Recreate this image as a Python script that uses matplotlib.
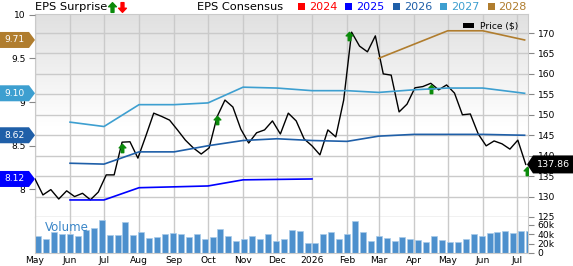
import numpy as np
import matplotlib
matplotlib.use("Agg")
import matplotlib.pyplot as plt
from matplotlib.colors import LinearSegmentedColormap
from matplotlib.patches import Polygon, Rectangle
from matplotlib.lines import Line2D
from matplotlib.path import Path
from matplotlib.transforms import IdentityTransform

W, H = 573, 266

# weekly closing price and volume (thousands)
week0 = np.datetime64('2025-05-01')
price = [134.3, 130.4, 131.7, 129.4, 131.4, 130.0, 130.8, 129.2, 131.1, 135.3,
         135.3, 143.3, 143.4, 139.4, 144.8, 150.4, 149.6, 148.7, 146.3, 143.8,
         141.9, 140.4, 141.9, 149.5, 153.6, 151.9, 146.5, 143.1, 145.6, 146.3,
         148.5, 145.3, 150.4, 148.5, 144.1, 142.4, 140.2, 146.3, 144.6, 153.6,
         170.2, 166.8, 165.4, 169.3, 160.0, 159.7, 150.7, 152.6, 156.6, 156.9,
         157.7, 156.1, 157.3, 155.3, 150.0, 150.2, 145.3, 142.4, 143.6, 142.9,
         141.6, 143.8, 137.86]
volume_k = [36, 31, 44, 41, 41, 36, 49, 53, 71, 39,
            39, 67, 39, 45, 33, 35, 41, 42, 41, 34,
            40, 30, 34, 51, 36, 25, 29, 36, 31, 40,
            25, 31, 49, 47, 22, 22, 41, 44, 30, 40,
            69, 45, 26, 36, 33, 26, 34, 29, 28, 23,
            36, 28, 23, 24, 30, 40, 36, 42, 44, 46,
            42, 46, 46]
price_dates = week0 + np.arange(len(price)) * np.timedelta64(7, 'D')

# consensus EPS by fiscal year
eps_dates = np.array(['2025-06-01', '2025-07-01', '2025-08-01', '2025-09-01',
                      '2025-10-01', '2025-11-01', '2025-12-01', '2026-01-01',
                      '2026-02-01', '2026-03-01', '2026-04-01', '2026-05-01',
                      '2026-06-01', '2026-07-08'], dtype='datetime64[D]')
eps_2025 = [7.88, 7.88, 8.02, 8.03, 8.04, 8.11, 8.115, 8.12]
eps_2026 = [8.30, 8.29, 8.43, 8.43, 8.50, 8.56, 8.58, 8.56,
            8.55, 8.61, 8.63, 8.63, 8.63, 8.62]
eps_2027 = [8.77, 8.72, 8.97, 8.97, 8.99, 9.17, 9.16, 9.13,
            9.13, 9.11, 9.14, 9.16, 9.16, 9.10]
eps_2028_dates = np.array(['2026-03-01', '2026-05-01', '2026-06-01', '2026-07-08'],
                          dtype='datetime64[D]')
eps_2028 = [9.50, 9.815, 9.815, 9.71]

surprise_dates = np.array(['2025-07-17', '2025-10-09', '2026-02-03',
                           '2026-04-16', '2026-07-10'], dtype='datetime64[D]')
surprise_price = [141.8, 148.7, 169.3, 156.2, 136.3]

month_ticks = np.array(['2025-05-01', '2025-06-01', '2025-07-01', '2025-08-01',
                        '2025-09-01', '2025-10-01', '2025-11-01', '2025-12-01',
                        '2026-01-01', '2026-02-01', '2026-03-01', '2026-04-01',
                        '2026-05-01', '2026-06-01', '2026-07-01'], dtype='datetime64[D]')
month_labels = ['May', 'Jun', 'Jul', 'Aug', 'Sep', 'Oct', 'Nov', 'Dec',
                '2026', 'Feb', 'Mar', 'Apr', 'May', 'Jun', 'Jul']

years = ['2024', '2025', '2026', '2027', '2028']
year_colors = ['#ff0000', '#0000ff', '#1f5fa8', '#3d9fd0', '#b07d2e']
grid_c = '#cacaca'

fig = plt.figure(figsize=(W / 100, H / 100), dpi=100)
px = IdentityTransform()

ax = fig.add_axes([35 / W, 1 - 217 / H, (528 - 35) / W, (217 - 14) / H])
axv = fig.add_axes([35 / W, 1 - 253 / H, (528 - 35) / W, (253 - 217) / H], sharex=ax)
axe = ax.twinx()

# gradient background of the price panel
cmap = LinearSegmentedColormap.from_list('bg', [(0, '#e0e0e0'), (0.55, '#ffffff'), (1, '#ffffff')])
ax.imshow(np.linspace(0, 1, 256).reshape(-1, 1), cmap=cmap, aspect='auto',
          extent=[0, 1, 0, 1], transform=ax.transAxes, zorder=0)

xlim = (np.datetime64('2025-05-01'), np.datetime64('2025-05-01') + np.timedelta64(436, 'D'))

# price panel (right axis)
ax.set_xlim(*xlim)
ax.set_ylim(125, 174.65)
ax.set_yticks(np.arange(125, 171, 5))
ax.yaxis.tick_right()
ax.grid(True, color=grid_c, lw=1)
ax.set_axisbelow(True)
ax.set_xticks(month_ticks)
ax.tick_params(axis='x', length=0, labelbottom=False)
ax.tick_params(axis='y', length=4, width=0.8, color='#888888', labelsize=6.6, pad=3)
ax.plot(price_dates, price, color='black', lw=1.0, zorder=3)

up = Path([(0, 1), (-0.8, 0.15), (-0.3, 0.15), (-0.3, -1), (0.3, -1), (0.3, 0.15), (0.8, 0.15), (0, 1)],
          [Path.MOVETO] + [Path.LINETO] * 6 + [Path.CLOSEPOLY])
down = Path(up.vertices * [1, -1], up.codes)
ax.plot(surprise_dates, surprise_price, ls='none', marker=up, ms=6,
        color='#0a8a0a', zorder=4)

for s in ax.spines.values():
    s.set_color(grid_c)

# EPS axis (left)
axe.set_ylim(7.685, 10.007)
axe.set_yticks([8, 8.5, 9, 9.5, 10])
axe.set_yticklabels(['8', '8.5', '9', '9.5', '10'])
axe.yaxis.tick_left()
axe.tick_params(axis='y', length=4, width=0.8, color='#888888', labelsize=6.6, pad=3)
for s in axe.spines.values():
    s.set_visible(False)
axe.plot(eps_dates[:len(eps_2025)], eps_2025, color=year_colors[1], lw=1.2)
axe.plot(eps_dates, eps_2026, color=year_colors[2], lw=1.2)
axe.plot(eps_dates, eps_2027, color=year_colors[3], lw=1.2)
axe.plot(eps_2028_dates, eps_2028, color=year_colors[4], lw=1.2)

# volume panel
axv.bar(price_dates + np.timedelta64(3, 'D'), volume_k, width=5.3,
        color='#4d90cd', edgecolor='#a8cbe9', lw=0.5, zorder=2)
axv.set_ylim(0, 77)
axv.set_yticks([0, 20, 40, 60])
axv.set_yticklabels(['0', '20k', '40k', '60k'])
axv.yaxis.tick_right()
axv.tick_params(axis='y', length=4, width=0.8, color='#888888', labelsize=6.6, pad=3)
axv.set_xticks(month_ticks)
axv.set_xticklabels(month_labels)
axv.tick_params(axis='x', length=0, labelsize=6.6, pad=2)
axv.grid(True, axis='x', color=grid_c, lw=1)
axv.set_axisbelow(True)
for s in axv.spines.values():
    s.set_color(grid_c)
axv.spines['top'].set_visible(False)
axv.text(0.02, 0.72, 'Volume', transform=axv.transAxes, color='#3a86c8',
         fontsize=8.5, va='center', zorder=5)

# value badges
for vals, c in [(eps_2028, year_colors[4]), (eps_2027, year_colors[3]),
                (eps_2026, year_colors[2]), (eps_2025, year_colors[1])]:
    yc = axe.transData.transform((0, vals[-1]))[1]
    fig.add_artist(Polygon([(0, yc - 8), (29, yc - 8), (35, yc), (29, yc + 8), (0, yc + 8)],
                           closed=True, fc=c, ec='none', transform=px, zorder=10))
    fig.text(14.5, yc, f'{vals[-1]:.2f}', transform=px, color='white',
             ha='center', va='center', fontsize=6.6, zorder=11)

yc = ax.transData.transform((0, price[-1]))[1]
fig.add_artist(Polygon([(527, yc), (533, yc - 9), (573, yc - 9), (573, yc + 9), (533, yc + 9)],
                       closed=True, fc='black', ec='none', transform=px, zorder=10))
fig.text(553, yc, f'{price[-1]:.2f}', transform=px, color='white',
         ha='center', va='center', fontsize=6.8, zorder=11)

# header
fig.text(35, H - 6.5, 'EPS Surprise', transform=px, fontsize=8.2, va='center')
fig.add_artist(Line2D([111.5], [H - 6.5], marker=up, ms=7, color='#0a8a0a', transform=px))
fig.add_artist(Line2D([122], [H - 6.5], marker=down, ms=7, color='#ff0000', transform=px))
fig.text(197, H - 6.5, 'EPS Consensus', transform=px, fontsize=8.2, va='center')
for i, (yr, c) in enumerate(zip(years, year_colors)):
    x0 = 298 + 47.4 * i
    fig.add_artist(Rectangle((x0, H - 10), 7, 7, fc=c, ec='none', transform=px))
    fig.text(x0 + 11, H - 6.5, yr, transform=px, fontsize=8, color=c, va='center')

# price legend
fig.add_artist(Rectangle((463, H - 27.5), 11, 5, fc='black', ec='none', transform=px, zorder=5))
fig.text(479.5, H - 25.5, 'Price ($)', transform=px, fontsize=6.6, va='center', zorder=5)

fig.savefig('out.png', dpi=100)
